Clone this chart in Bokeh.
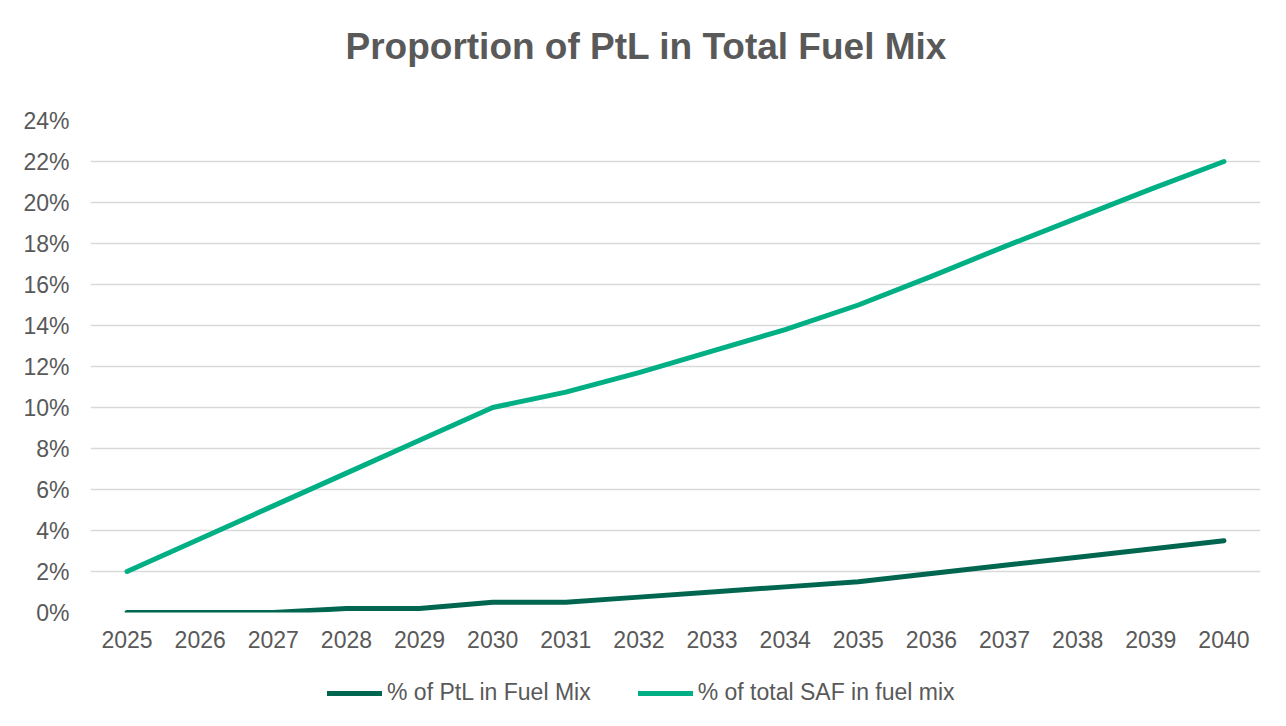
from bokeh.plotting import figure
from bokeh.layouts import column
from bokeh.models import Range1d, FixedTicker, PrintfTickFormatter, Legend, LegendItem, Title
from bokeh.embed import file_html
from bokeh.resources import INLINE

years = [str(y) for y in range(2025, 2041)]
ptl_share = [0.0, 0.0, 0.0, 0.2, 0.2, 0.5, 0.5, 0.75, 1.0, 1.25, 1.5, 1.9, 2.3, 2.7, 3.1, 3.5]
saf_share = [2.0, 3.6, 5.2, 6.8, 8.4, 10.0, 10.75, 11.7, 12.75, 13.8, 15.0, 16.4, 17.85, 19.25, 20.65, 22.0]
y_ticks = list(range(0, 25, 2))

chart_title = "Proportion of PtL in Total Fuel Mix"
series_names = ["% of PtL in Fuel Mix", "% of total SAF in fuel mix"]
series_colors = ["#00664F", "#00AF84"]
TXT = "#595959"
FONT = "Liberation Sans"

p = figure(x_range=years, y_range=Range1d(0, 24), frame_width=1170, frame_height=492,
           title=None, output_backend="svg", toolbar_location=None,
           min_border_left=90, min_border_right=18, min_border_top=120, min_border_bottom=56)

# spacer nearest the frame, then the real title above it
p.add_layout(Title(text=" ", text_font=FONT, text_font_size="37px", standoff=11), "above")
p.add_layout(Title(text=chart_title, align="left", offset=255, standoff=0,
                   text_font=FONT, text_font_size="37px", text_font_style="bold",
                   text_color=TXT), "above")

p.outline_line_color = None
p.xgrid.grid_line_color = None
p.ygrid.grid_line_color = "#D9D9D9"
p.ygrid.grid_line_width = 1.5

p.yaxis.ticker = FixedTicker(ticks=y_ticks)
p.yaxis.formatter = PrintfTickFormatter(format="%d%%")
for ax in (p.xaxis, p.yaxis):
    ax.axis_line_color = None
    ax.major_tick_line_color = None
    ax.minor_tick_line_color = None
    ax.major_label_text_font = FONT
    ax.major_label_text_font_size = "23px"
    ax.major_label_text_color = TXT
p.yaxis.major_label_standoff = 15
p.xaxis.major_label_standoff = 12

p.line(years, ptl_share, line_color=series_colors[0], line_width=5,
       line_cap="round", line_join="round")
p.line(years, saf_share, line_color=series_colors[1], line_width=5,
       line_cap="round", line_join="round")

# legend strip under the chart (its series lie outside this strip's view)
q = figure(width=1278, height=46, x_range=years, y_range=Range1d(100, 101),
           output_backend="svg", toolbar_location=None, min_border=0)
q.axis.visible = False
q.grid.visible = False
q.outline_line_color = None
k1 = q.line(years, ptl_share, line_color=series_colors[0], line_width=5, line_cap="round")
k2 = q.line(years, saf_share, line_color=series_colors[1], line_width=5, line_cap="round")
legend = Legend(items=[LegendItem(label=series_names[0], renderers=[k1]),
                       LegendItem(label=series_names[1], renderers=[k2])],
                orientation="horizontal", location=(237, 8),
                label_text_font=FONT, label_text_font_size="23px", label_text_color=TXT,
                glyph_width=55, label_standoff=5, spacing=47,
                border_line_color=None, background_fill_alpha=0, margin=0, padding=4)
q.add_layout(legend, "center")

layout = column(p, q, spacing=0)
open("out.html", "w").write(file_html(layout, INLINE))
